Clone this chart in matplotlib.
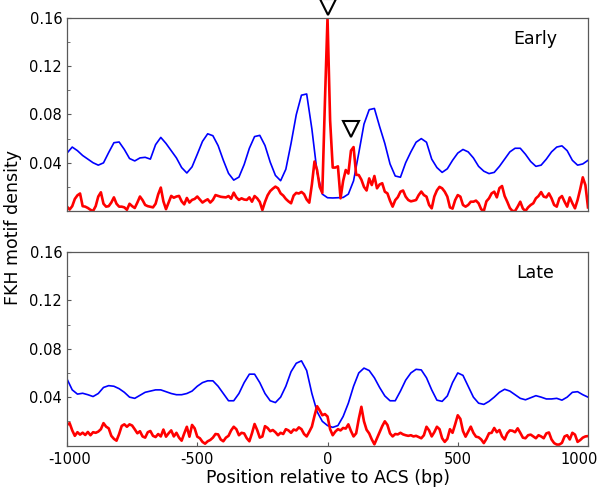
import matplotlib
matplotlib.use("Agg")
import matplotlib.pyplot as plt
import matplotlib.transforms as mtransforms
import numpy as np

plt.rcParams["axes.unicode_minus"] = False

# positions (bp) for the two sampling grids
pos_fine = np.arange(-1000, 1001, 10)     # red (motif density)
pos_coarse = np.arange(-1000, 1001, 20)   # blue (background)

early_red = [
    0.0036, 0.0012, 0.004, 0.010, 0.013, 0.0145, 0.004, 0.0036, 0.0025, 0.001,
    0.0, 0.004, 0.012, 0.0155, 0.006, 0.0036, 0.004, 0.007, 0.0113, 0.006,
    0.0036, 0.0036, 0.003, 0.001, 0.006, 0.004, 0.0025, 0.007, 0.012, 0.009,
    0.005, 0.004, 0.0035, 0.003, 0.006, 0.0138, 0.0194, 0.008, 0.0015, 0.007,
    0.0125, 0.011, 0.012, 0.0125, 0.008, 0.0055, 0.0108, 0.007, 0.0092, 0.010,
    0.0120, 0.0095, 0.007, 0.0085, 0.0097, 0.007, 0.0092, 0.0132, 0.0125, 0.0118,
    0.0115, 0.0113, 0.0124, 0.0102, 0.0152, 0.0113, 0.0092, 0.0105, 0.0095, 0.0092,
    0.0113, 0.0077, 0.0124, 0.0105, 0.0075, 0.0008, 0.0075, 0.0130, 0.0165, 0.0185,
    0.0202, 0.0188, 0.0146, 0.0128, 0.0100, 0.0080, 0.0064, 0.0128, 0.0150, 0.0145,
    0.0158, 0.0140, 0.0095, 0.0069, 0.0220, 0.041, 0.034, 0.020, 0.015, 0.090,
    0.160,
    0.075, 0.036, 0.036, 0.037, 0.0105, 0.025, 0.034, 0.031, 0.050, 0.053,
    0.030, 0.0298, 0.026, 0.020, 0.017, 0.027, 0.0215, 0.029, 0.0188, 0.022,
    0.023, 0.016, 0.0146, 0.0085, 0.0036, 0.009, 0.0115, 0.016, 0.017, 0.0119,
    0.0091, 0.008, 0.0085, 0.0091, 0.0132, 0.0161, 0.0132, 0.0119, 0.005, 0.0022,
    0.012, 0.0171, 0.020, 0.0188, 0.016, 0.0119, 0.003, 0.002, 0.009, 0.0132,
    0.0119, 0.005, 0.0036, 0.005, 0.0077, 0.0077, 0.0086, 0.0064, 0.0014, 0.0,
    0.008, 0.0105, 0.0146, 0.016, 0.0113, 0.019, 0.0207, 0.0124, 0.0077, 0.0025,
    0.0, 0.0, 0.0036, 0.0077, 0.002, 0.0, 0.003, 0.005, 0.0064, 0.0105,
    0.0124, 0.0157, 0.0119, 0.0113, 0.0146, 0.0105, 0.005, 0.0036, 0.0105, 0.0124,
    0.0077, 0.0036, 0.0113, 0.0064, 0.0022, 0.0091, 0.018, 0.0279, 0.0215, 0.003,
]

early_blue = [
    0.048, 0.053, 0.050, 0.046, 0.043, 0.040, 0.038, 0.0399, 0.0485, 0.0566,
    0.0572, 0.051, 0.0435, 0.0415, 0.044, 0.0445, 0.043, 0.055, 0.061, 0.056,
    0.050, 0.044, 0.036, 0.0315, 0.0366, 0.047, 0.0577, 0.064, 0.0624, 0.0542,
    0.0421, 0.0312, 0.0256, 0.0281, 0.0385, 0.052, 0.0617, 0.0627, 0.0543, 0.0405,
    0.0295, 0.0251, 0.0346, 0.056, 0.0798, 0.096, 0.097, 0.068, 0.032, 0.014,
    0.011,
    0.0108, 0.011, 0.0112, 0.014, 0.025, 0.048, 0.072, 0.084, 0.085, 0.070,
    0.056, 0.039, 0.029, 0.028, 0.040, 0.049, 0.057, 0.060, 0.057, 0.043,
    0.036, 0.032, 0.035, 0.042, 0.048, 0.051, 0.049, 0.044, 0.037, 0.033,
    0.031, 0.032, 0.037, 0.043, 0.049, 0.052, 0.052, 0.047, 0.041, 0.037,
    0.038, 0.043, 0.049, 0.053, 0.054, 0.050, 0.042, 0.038, 0.039, 0.042,
]

late_red = [
    0.017, 0.0185, 0.0125, 0.008, 0.011, 0.009, 0.0106, 0.0087, 0.0112, 0.0085,
    0.011, 0.0105, 0.0115, 0.0135, 0.0185, 0.0156, 0.0142, 0.008, 0.0055, 0.004,
    0.0095, 0.0162, 0.0175, 0.0155, 0.0175, 0.0165, 0.0134, 0.0101, 0.0118, 0.0075,
    0.0065, 0.011, 0.012, 0.008, 0.007, 0.0095, 0.0075, 0.0132, 0.0073, 0.0101,
    0.0125, 0.0075, 0.0105, 0.0065, 0.004, 0.010, 0.0155, 0.0073, 0.017, 0.0142,
    0.0073, 0.006, 0.003, 0.0015, 0.0035, 0.0046, 0.0065, 0.0095, 0.0092, 0.005,
    0.0035, 0.0065, 0.008, 0.0125, 0.0155, 0.0135, 0.0085, 0.0105, 0.0100, 0.006,
    0.0035, 0.0101, 0.0178, 0.0128, 0.0065, 0.0075, 0.016, 0.0145, 0.0118, 0.0128,
    0.011, 0.0085, 0.0105, 0.0095, 0.0135, 0.0125, 0.0105, 0.0132, 0.0125, 0.015,
    0.0135, 0.0095, 0.0075, 0.0114, 0.0156, 0.0245, 0.0325, 0.029, 0.025, 0.026,
    0.024,
    0.0135, 0.0085, 0.0115, 0.0135, 0.0125, 0.0145, 0.014, 0.0175, 0.012, 0.0075,
    0.0101, 0.022, 0.032, 0.020, 0.013, 0.010, 0.005, 0.001, 0.006, 0.011,
    0.016, 0.020, 0.017, 0.010, 0.0075, 0.0095, 0.0092, 0.0105, 0.0092, 0.0085,
    0.008, 0.0085, 0.0075, 0.008, 0.007, 0.006, 0.0085, 0.0155, 0.0125, 0.0075,
    0.011, 0.0155, 0.0135, 0.006, 0.003, 0.0055, 0.0135, 0.0105, 0.0175, 0.025,
    0.022, 0.012, 0.0073, 0.0114, 0.0156, 0.0105, 0.0073, 0.0068, 0.005, 0.002,
    0.0055, 0.0101, 0.0105, 0.0145, 0.0110, 0.0128, 0.0075, 0.005, 0.0101, 0.0125,
    0.0122, 0.011, 0.0142, 0.0105, 0.0065, 0.006, 0.0085, 0.009, 0.0075, 0.006,
    0.0085, 0.0075, 0.006, 0.010, 0.0108, 0.005, 0.002, 0.0008, 0.0008, 0.0022,
    0.0075, 0.0085, 0.005, 0.0105, 0.009, 0.003, 0.0045, 0.0065, 0.0075, 0.0078,
]

late_blue = [
    0.055, 0.046, 0.0425, 0.0432, 0.042, 0.0405, 0.043, 0.048, 0.0495, 0.049,
    0.047, 0.044, 0.040, 0.039, 0.0415, 0.044, 0.045, 0.046, 0.046, 0.0445,
    0.043, 0.042, 0.042, 0.043, 0.045, 0.049, 0.052, 0.0535, 0.0535, 0.049,
    0.043, 0.037, 0.037, 0.043, 0.052, 0.059, 0.059, 0.052, 0.043, 0.037,
    0.0355, 0.040, 0.049, 0.061, 0.068, 0.070, 0.062, 0.043, 0.028, 0.020,
    0.0165,
    0.015, 0.0165, 0.024, 0.035, 0.049, 0.060, 0.064, 0.062, 0.056, 0.048,
    0.041, 0.037, 0.037, 0.045, 0.054, 0.060, 0.063, 0.0625, 0.056, 0.046,
    0.0375, 0.0365, 0.041, 0.052, 0.060, 0.058, 0.049, 0.040, 0.035, 0.034,
    0.0365, 0.040, 0.044, 0.0465, 0.045, 0.042, 0.039, 0.0378, 0.0395, 0.0412,
    0.040, 0.0385, 0.0385, 0.039, 0.0375, 0.040, 0.044, 0.0445, 0.042, 0.040,
]

# marked sites in the early profile (bp) and marker lift above the peak
site_pos = [0, 90]
site_lift = [0.009, 0.015]

panels = [("Early", early_red, early_blue), ("Late", late_red, late_blue)]

fig = plt.figure(figsize=(6.0, 4.9), dpi=100)
axes = [fig.add_axes([0.1117, 0.5694, 0.8683, 0.3939]),
        fig.add_axes([0.1117, 0.0908, 0.8683, 0.3949])]

for ax, (name, red, blue) in zip(axes, panels):
    ax.plot(pos_coarse, blue, color="#0000ff", lw=1.2)
    ax.plot(pos_fine, red, color="#ff0000", lw=1.9)
    ax.set_xlim(-1000, 1000)
    ax.set_ylim(0, 0.16)
    ax.set_yticks([0.04, 0.08, 0.12, 0.16])
    ax.set_yticklabels(["0.04", "0.08", "0.12", "0.16"])
    ax.set_yticks([0.02, 0.06, 0.10, 0.14], minor=True)
    ax.tick_params(axis="both", which="both", direction="in", labelsize=10.5,
                   color="0.35")
    ax.tick_params(which="major", length=3)
    ax.tick_params(which="minor", length=2)
    for s in ax.spines.values():
        s.set_color("0.35")
        s.set_linewidth(0.9)
    ax.text(0.898, 0.89, name, transform=ax.transAxes, fontsize=12.5,
            ha="center", va="center")

axes[0].set_xticks([])
axes[1].set_xticks([-1000, -500, 0, 500, 1000])
axes[1].tick_params(axis="x", pad=5)
axes[1].set_xlabel("Position relative to ACS (bp)", fontsize=12.5, labelpad=1)

# keep the end labels inside the figure
fig.canvas.draw()
xlabels = axes[1].get_xticklabels()
xlabels[0].set_transform(xlabels[0].get_transform() +
                         mtransforms.ScaledTranslation(3 / 100, 0, fig.dpi_scale_trans))
xlabels[-1].set_transform(xlabels[-1].get_transform() +
                          mtransforms.ScaledTranslation(-9 / 100, 0, fig.dpi_scale_trans))

red_early = np.array(early_red)
for p, lift in zip(site_pos, site_lift):
    win = (pos_fine >= p - 10) & (pos_fine <= p + 10)
    peak = red_early[win].max()
    axes[0].plot(p, peak + lift, marker="v", ms=11, mfc="white", mec="black",
                 mew=1.5, clip_on=False, zorder=5)

fig.text(0.022, 0.535, "FKH motif density", rotation=90, fontsize=12.5,
         ha="center", va="center")

fig.savefig("out.png", dpi=100)
